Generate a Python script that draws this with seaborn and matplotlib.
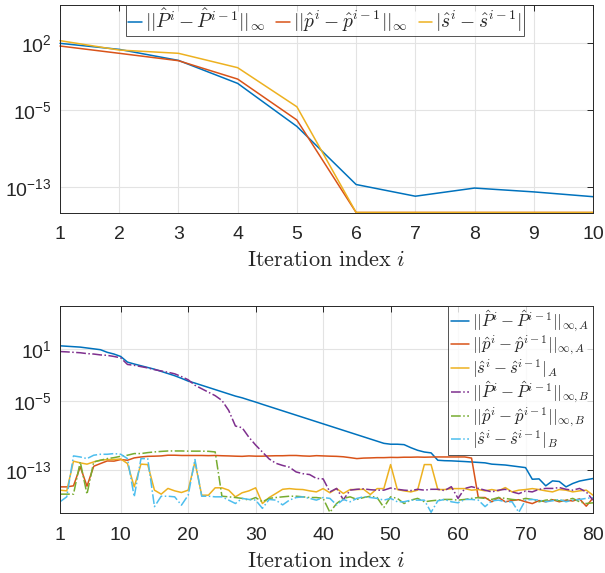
import numpy as np
import pandas as pd
import matplotlib
matplotlib.use("Agg")
import matplotlib.pyplot as plt
import seaborn as sns
from matplotlib.ticker import FixedLocator, NullLocator, FuncFormatter

# ---------------- data (log10 of the update norms) ----------------
# upper panel: first 10 iterations
iters_top = [1, 2, 3, 4, 5, 6, 7, 8, 9, 10]
P_top_exp = [2.0, 1.37, 0.22, -2.18, -6.67, -12.73, -13.95, -13.1, -13.5, -14.0]
p_top_exp = [1.72, 0.96, 0.19, -1.73, -6.0, -15.65, -15.65, -15.65, -15.65, -15.65]
s_top_exp = [2.28, 1.3, 0.96, -0.54, -4.62, -15.65, -15.65, -15.65, -15.65, -15.65]

# lower panel: 80 iterations, subsystems A and B
iters_bot = list(range(1, 81))
P_A_exp = [1.35, 1.3, 1.25, 1.2, 1.1, 1.0, 0.9, 0.6, 0.4, 0.12,
           -0.53, -0.75, -0.95, -1.15, -1.35, -1.6, -1.85, -2.1, -2.4, -2.72,
           -2.95, -3.2, -3.45, -3.7, -3.95, -4.2, -4.45, -4.65, -4.9, -5.14,
           -5.4, -5.65, -5.9, -6.15, -6.4, -6.65, -6.9, -7.15, -7.4, -7.65,
           -7.9, -8.15, -8.4, -8.65, -8.9, -9.15, -9.4, -9.65, -9.9, -10.0,
           -10.0, -10.05, -10.4, -10.7, -10.9, -11.0, -11.85, -11.9, -11.92, -11.96,
           -12.0, -12.05, -12.1, -12.15, -12.3, -12.35, -12.4, -12.5, -12.6, -12.7,
           -14.04, -14.0, -14.8, -14.23, -14.3, -14.92, -14.53, -14.25, -14.1, -13.96]
p_A_exp = [-14.92, -14.92, -14.8, -12.6, -14.84, -12.54, -12.23, -11.93, -11.95, -11.77,
           -11.85, -11.58, -11.47, -11.4, -11.38, -11.35, -11.27, -11.27, -11.3, -11.3,
           -11.3, -11.3, -11.32, -11.3, -11.33, -11.35, -11.38, -11.4, -11.35, -11.38,
           -11.38, -11.35, -11.33, -11.33, -11.3, -11.3, -11.35, -11.38, -11.32, -11.35,
           -11.38, -11.4, -11.45, -11.55, -11.66, -11.6, -11.58, -11.55, -11.55, -11.52,
           -11.53, -11.5, -11.5, -11.48, -11.5, -11.48, -11.47, -11.47, -11.47, -11.47,
           -11.47, -11.6, -16.15, -16.15, -16.64, -16.15, -16.64, -16.5, -16.4, -16.64,
           -16.85, -16.5, -16.64, -16.4, -16.64, -16.45, -16.55, -16.3, -17.15, -16.2]
s_A_exp = [-15.3, -15.38, -11.96, -12.15, -12.3, -12.04, -11.85, -11.77, -11.77, -11.7,
           -12.23, -14.92, -12.3, -12.35, -15.3, -15.76, -15.1, -15.38, -15.57, -15.3,
           -12.04, -15.88, -15.88, -15.03, -15.03, -15.3, -16.07, -15.6, -15.38, -15.03,
           -16.84, -16.15, -15.68, -15.2, -15.12, -15.2, -15.23, -15.38, -15.5, -15.12,
           -15.6, -15.12, -15.68, -15.23, -15.23, -15.2, -15.8, -15.12, -15.12, -12.35,
           -15.23, -15.38, -15.5, -15.3, -12.35, -12.35, -15.23, -15.23, -15.12, -15.12,
           -15.12, -15.3, -15.23, -15.38, -15.23, -15.38, -15.0, -15.5, -15.3, -15.23,
           -15.12, -15.23, -15.38, -15.5, -15.23, -15.3, -15.5, -15.38, -15.3, -15.88]
P_B_exp = [0.69, 0.65, 0.6, 0.55, 0.45, 0.4, 0.3, 0.25, 0.12, -0.04,
           -0.8, -0.9, -1.05, -1.2, -1.4, -1.55, -1.7, -1.88, -2.2, -2.57,
           -3.2, -3.6, -4.0, -4.4, -4.95, -6.1, -7.9, -8.1, -9.2, -10.1,
           -10.9, -11.7, -12.2, -12.45, -12.65, -13.2, -13.4, -13.5, -13.95, -14.0,
           -15.5, -15.1, -16.4, -15.3, -15.2, -15.15, -15.25, -15.3, -15.3, -15.05,
           -15.2, -15.3, -15.35, -15.2, -15.3, -15.2, -15.2, -15.35, -14.9, -16.25,
           -15.1, -14.9, -15.1, -15.3, -15.5, -15.3, -15.2, -15.5, -15.7, -15.4,
           -15.5, -15.2, -15.1, -15.1, -15.0, -15.2, -15.3, -15.1, -15.5, -16.45]
p_B_exp = [-15.76, -15.76, -15.76, -12.04, -15.76, -12.04, -11.85, -11.66, -11.55, -11.39,
           -11.27, -11.08, -11.08, -10.97, -10.89, -10.83, -10.78, -10.78, -10.78, -10.8,
           -10.8, -10.8, -10.82, -10.89, -16.0, -16.07, -16.15, -16.25, -16.45, -16.15,
           -16.64, -16.25, -16.15, -16.07, -16.0, -16.0, -16.07, -16.15, -16.15, -16.25,
           -17.85, -16.84, -16.25, -16.07, -16.37, -16.15, -16.0, -16.15, -17.3, -16.07,
           -16.25, -16.84, -16.45, -16.25, -16.64, -16.53, -16.45, -16.37, -16.37, -16.45,
           -16.37, -16.25, -16.15, -16.25, -16.37, -16.15, -16.25, -16.37, -16.45, -16.25,
           -16.37, -16.64, -16.45, -16.37, -16.53, -16.45, -16.25, -16.64, -16.84, -16.76]
s_B_exp = [-16.64, -16.07, -11.35, -11.47, -11.66, -11.27, -11.16, -11.16, -11.08, -11.16,
           -11.66, -16.07, -11.66, -11.66, -17.2, -16.0, -16.0, -16.07, -17.03, -15.88,
           -11.77, -16.0, -16.0, -16.07, -16.07, -16.45, -16.84, -16.25, -16.37, -16.45,
           -17.4, -16.37, -16.45, -17.0, -16.45, -16.15, -16.07, -16.25, -16.45, -16.15,
           -16.25, -17.0, -16.37, -16.64, -16.25, -16.07, -16.15, -16.25, -16.45, -16.25,
           -16.64, -16.64, -16.45, -16.45, -16.45, -17.85, -16.53, -16.37, -16.64, -16.76,
           -16.37, -16.37, -16.45, -17.2, -16.53, -16.45, -16.64, -16.64, -17.85, -16.45,
           -16.37, -16.45, -16.64, -16.53, -16.37, -16.64, -16.45, -16.37, -16.25, -16.15]

# ---------------- style ----------------
sns.set_style("white")
plt.rcParams["font.family"] = ["Liberation Sans", "DejaVu Sans"]
plt.rcParams["mathtext.fontset"] = "cm"

C_BLUE, C_ORANGE, C_YELLOW = "#0072BD", "#D95319", "#EDB120"
C_PURPLE, C_GREEN, C_CYAN = "#7E2F8E", "#77AC30", "#4DBEEE"
AX_COL = "#262626"

fig = plt.figure(figsize=(6.05, 5.73), dpi=100)
W, H = 605.0, 573.0
left, right = 60, 593
ax1 = fig.add_axes([left / W, 1 - 212.5 / H, (right - left) / W, (212.5 - 5) / H])
ax2 = fig.add_axes([left / W, 1 - 512.7 / H, (right - left) / W, (512.7 - 305.5) / H])


def pow_fmt(v, pos):
    return r"$\mathregular{10^{%d}}$" % int(round(np.log10(v)))


def style_axes(ax, xticks, yticks, xlim, ylim):
    ax.set_yscale("log")
    ax.set_xlim(*xlim)
    ax.set_ylim(*ylim)
    ax.xaxis.set_major_locator(FixedLocator(xticks))
    ax.yaxis.set_major_locator(FixedLocator(yticks))
    ax.yaxis.set_minor_locator(NullLocator())
    ax.xaxis.set_minor_locator(NullLocator())
    ax.yaxis.set_major_formatter(FuncFormatter(pow_fmt))
    ax.tick_params(direction="in", top=True, right=True, length=4, width=0.7,
                   colors=AX_COL, labelsize=14)
    ax.tick_params(axis="x", pad=10)
    ax.tick_params(axis="y", pad=6)
    ax.grid(True, color="#e3e3e3", linewidth=0.8)
    ax.set_axisbelow(True)
    for sp in ax.spines.values():
        sp.set_color(AX_COL)
        sp.set_linewidth(0.7)
    ax.set_xlabel(r"$\mathrm{Iteration\ index}\ i$", fontsize=16, color=AX_COL, labelpad=5)
    ax.set_ylabel("")


# ---------------- upper panel ----------------
top_series = [
    (r"$||\hat{P}^i-\hat{P}^{i-1}||_\infty$", P_top_exp, C_BLUE),
    (r"$||\hat{p}^i-\hat{p}^{i-1}||_\infty$", p_top_exp, C_ORANGE),
    (r"$|\hat{s}^i-\hat{s}^{i-1}|$", s_top_exp, C_YELLOW),
]
for label, vals, col in top_series:
    df = pd.DataFrame({"it": iters_top, "val": np.power(10.0, vals)})
    sns.lineplot(data=df, x="it", y="val", ax=ax1, color=col, linewidth=1.1,
                 label=label, estimator=None, clip_on=False)
style_axes(ax1, iters_top, [1e2, 1e-5, 1e-13], (1, 10), (10 ** -15.65, 1e6))
leg1 = ax1.legend(loc="upper center", ncol=3, fontsize=14, frameon=True,
                  fancybox=False, edgecolor=AX_COL, handlelength=0.7,
                  handletextpad=0.15, columnspacing=0.6, borderpad=0.1,
                  borderaxespad=0.0, bbox_to_anchor=(0.497, 1.0))
leg1.get_frame().set_linewidth(0.7)

# ---------------- lower panel ----------------
bot_series = [
    (r"$||\hat{P}^i-\hat{P}^{i-1}||_{\infty,A}$", P_A_exp, C_BLUE, "-"),
    (r"$||\hat{p}^i-\hat{p}^{i-1}||_{\infty,A}$", p_A_exp, C_ORANGE, "-"),
    (r"$|\hat{s}^i-\hat{s}^{i-1}|_A$", s_A_exp, C_YELLOW, "-"),
    (r"$||\hat{P}^i-\hat{P}^{i-1}||_{\infty,B}$", P_B_exp, C_PURPLE, "-."),
    (r"$||\hat{p}^i-\hat{p}^{i-1}||_{\infty,B}$", p_B_exp, C_GREEN, "-."),
    (r"$|\hat{s}^i-\hat{s}^{i-1}|_B$", s_B_exp, C_CYAN, "-."),
]
for label, vals, col, ls in bot_series:
    df = pd.DataFrame({"it": iters_bot, "val": np.power(10.0, vals)})
    sns.lineplot(data=df, x="it", y="val", ax=ax2, color=col, linewidth=1.1,
                 linestyle=ls, label=label, estimator=None)
style_axes(ax2, [1, 10, 20, 30, 40, 50, 60, 70, 80], [1e1, 1e-5, 1e-13],
           (1, 80), (10 ** -17.9, 1e6))
leg2 = ax2.legend(loc="upper right", ncol=1, fontsize=12, frameon=True,
                  fancybox=False, edgecolor=AX_COL, handlelength=1.05,
                  handletextpad=0.2, labelspacing=0.0, borderpad=0.2,
                  borderaxespad=0.0)
leg2.get_frame().set_linewidth(0.7)

fig.savefig("out.png", dpi=100)
